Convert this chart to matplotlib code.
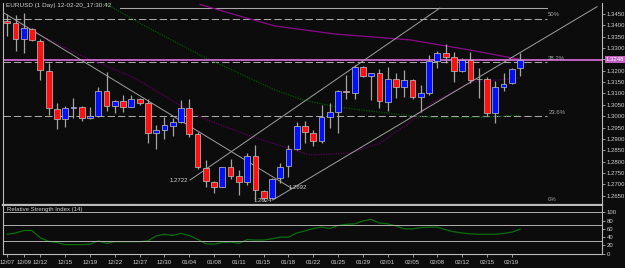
import numpy as np
import matplotlib
matplotlib.use("Agg")
import matplotlib.pyplot as plt

# daily EURUSD candles, index 0 = 12/07
opens = [1.3420, 1.3409, 1.3339, 1.3383, 1.3332, 1.3199, 1.3030, 1.2986, 1.3035, 1.3042,
         1.2991, 1.3001, 1.3111, 1.3045, 1.3067, 1.3042, 1.3074, 1.3059, 1.2927, 1.2939,
         1.2958, 1.2976, 1.3035, 1.2922, 1.2773, 1.2712, 1.2690, 1.2775, 1.2737, 1.2712,
         1.2825, 1.2671, 1.2638, 1.2727, 1.2781, 1.2854, 1.2958, 1.2927, 1.2892, 1.2995,
         1.3020, 1.3112, 1.3103, 1.3215, 1.3178, 1.3189, 1.3064, 1.3164, 1.3130, 1.3159,
         1.3086, 1.3101, 1.3243, 1.3277, 1.3259, 1.3199, 1.3247, 1.3163, 1.3164, 1.3015,
         1.3127, 1.3145, 1.3211]
highs = [1.3450, 1.3446, 1.3456, 1.3387, 1.3339, 1.3233, 1.3059, 1.3045, 1.3081, 1.3045,
         1.3039, 1.3127, 1.3196, 1.3071, 1.3093, 1.3093, 1.3079, 1.3074, 1.2961, 1.2998,
         1.2991, 1.3071, 1.3074, 1.2932, 1.2807, 1.2715, 1.2778, 1.2810, 1.2763, 1.2837,
         1.2873, 1.2675, 1.2728, 1.2793, 1.2873, 1.2976, 1.2980, 1.2939, 1.3049, 1.3059,
         1.3115, 1.3181, 1.3225, 1.3221, 1.3192, 1.3207, 1.3218, 1.3192, 1.3203, 1.3164,
         1.3137, 1.3269, 1.3287, 1.3318, 1.3284, 1.3255, 1.3284, 1.3211, 1.3174, 1.3156,
         1.3192, 1.3211, 1.3277]
lows = [1.3353, 1.3288, 1.3280, 1.3332, 1.3159, 1.3005, 1.2942, 1.2954, 1.2991, 1.2980,
        1.2986, 1.2998, 1.3023, 1.3013, 1.3020, 1.3039, 1.3049, 1.2883, 1.2854, 1.2898,
        1.2913, 1.2969, 1.2910, 1.2766, 1.2690, 1.2660, 1.2687, 1.2723, 1.2653, 1.2697,
        1.2631, 1.2627, 1.2635, 1.2707, 1.2734, 1.2851, 1.2883, 1.2870, 1.2881, 1.2949,
        1.2927, 1.3074, 1.3074, 1.3171, 1.3071, 1.3035, 1.3023, 1.3079, 1.3086, 1.3077,
        1.3020, 1.3093, 1.3214, 1.3233, 1.3152, 1.3196, 1.3145, 1.3079, 1.3001, 1.2971,
        1.3112, 1.3142, 1.3178]
closes = [1.3409, 1.3339, 1.3387, 1.3336, 1.3203, 1.3035, 1.2986, 1.3035, 1.3042, 1.2993,
          1.3001, 1.3111, 1.3045, 1.3067, 1.3042, 1.3074, 1.3059, 1.2927, 1.2939, 1.2961,
          1.2976, 1.3035, 1.2922, 1.2778, 1.2715, 1.2690, 1.2775, 1.2738, 1.2712, 1.2825,
          1.2675, 1.2641, 1.2722, 1.2778, 1.2854, 1.2958, 1.2932, 1.2892, 1.2995, 1.3017,
          1.3111, 1.3105, 1.3215, 1.3177, 1.3189, 1.3067, 1.3164, 1.3130, 1.3159, 1.3086,
          1.3101, 1.3243, 1.3277, 1.3262, 1.3199, 1.3247, 1.3159, 1.3163, 1.3015, 1.3127,
          1.3140, 1.3208, 1.3248]

rsi = [47, 50, 56, 56, 38, 30, 27, 22, 22, 22, 23, 31, 25, 29, 29, 29, 29, 31, 43, 47,
       44, 49, 44, 35, 24, 23, 27, 28, 25, 34, 33, 33, 36, 40, 40, 50, 55, 61, 64, 61,
       68, 71, 72, 79, 83, 74, 72, 67, 60, 60, 63, 64, 64, 58, 53, 50, 48, 47, 47, 47,
       49, 52, 59]

date_idx = [0, 2, 4, 7, 10, 13, 16, 19, 22, 25, 28, 31, 34, 37, 40, 43, 46, 49, 52, 55, 58, 61]
date_labels = ["12/07", "12/09", "12/12", "12/15", "12/19", "12/22", "12/27", "12/30", "01/04",
               "01/08", "01/11", "01/15", "01/18", "01/22", "01/25", "01/29", "02/01", "02/05",
               "02/08", "02/12", "02/15", "02/19"]

# moving averages (bar index, price)
ma_slow_x = [23.3, 28.1, 32.4, 39.6, 48.7, 56.0, 61.4, 62]
ma_slow_y = [1.3492, 1.3441, 1.3397, 1.3362, 1.3336, 1.3291, 1.3254, 1.3251]
ma_mid_x = [1.5, 8.8, 15.4, 23.3, 29.7, 36.6, 41.4, 45.1, 48.7, 51.3, 56.2, 62]
ma_mid_y = [1.3402, 1.3269, 1.3168, 1.2996, 1.2908, 1.2829, 1.2838, 1.2882, 1.2974, 1.3058,
            1.3151, 1.3168]
ma_fast_x = [11.8, 16.0, 23.3, 32.4, 35.8, 39.9, 48.1, 52.1, 58.1, 62]
ma_fast_y = [1.3498, 1.3410, 1.3269, 1.3115, 1.3071, 1.3040, 1.3005, 1.2992, 1.2996, 1.3005]

# fibonacci levels and drawn objects
fib_levels = ["50%", "38.2%", "23.6%", "0%"]
fib_prices = [1.3430, 1.3237, 1.2999, 1.2615]
top_line = (13.6, 65.26, 1.3475)
hline_price = 1.3248
trend_lines = [((-0.48, 1.3456), (34.4, 1.2682)),
               ((22.1, 1.2719), (52.3, 1.3476)),
               ((32.1, 1.2631), (71.3, 1.3482))]
trend_labels = [(34.0, 1.2686, "1.2692", "left"),
                (21.9, 1.2717, "1.2722", "right"),
                (32.0, 1.2629, "1.2624", "right")]

price_ticks = [1.2650 + 0.005 * k for k in range(17)]
rsi_ticks = [0, 20, 40, 60, 80, 100]

W, H = 625, 268
BG = "#0c0c0c"
FG = "#d0d0d0"
GRID = "#a8a8a8"
FONT = "Liberation Sans"
FS = 4.3

def rect(x0, y0, x1, y1):
    return [x0 / W, 1 - y1 / H, (x1 - x0) / W, (y1 - y0) / H]

fig = plt.figure(figsize=(W / 100, H / 100), dpi=100, facecolor=BG)
ax = fig.add_axes(rect(3.3, 3, 601.7, 204.5), facecolor=BG)
ax2 = fig.add_axes(rect(3.3, 206, 601.7, 254.3), facecolor=BG)

xmin, xmax = -0.484, 71.87
ax.set_xlim(xmin, xmax)
ax.set_ylim(1.26112, 1.34984)

# fibo
for lab, p in zip(fib_levels, fib_prices):
    ax.plot([xmin, 65.26], [p, p], color=GRID, lw=0.75, dashes=(7, 3), zorder=1)
    ax.text(65.4, p + 0.0006, lab, color=GRID, fontsize=FS, family=FONT, va="bottom", ha="left")
ax.plot(top_line[:2], [top_line[2]] * 2, color=GRID, lw=0.75, zorder=1)

# moving averages
ax.plot(ma_slow_x, ma_slow_y, color="#8a0a8a", lw=0.9, zorder=2)
ax.plot(ma_mid_x, ma_mid_y, color="#600060", lw=0.9, ls=(0, (1, 1)), zorder=2)
ax.plot(ma_fast_x, ma_fast_y, color="#005a00", lw=0.9, ls=(0, (1, 1)), zorder=2)

# horizontal line at current price
ax.axhline(hline_price, color="#c060c0", lw=1.4, zorder=2)

# trend lines
for (x0, y0), (x1, y1) in trend_lines:
    ax.plot([x0, x1], [y0, y1], color="#a0a0a0", lw=0.7, zorder=3)
for x, y, t, ha in trend_labels:
    ax.text(x, y, t, color=FG, fontsize=FS, family=FONT, ha=ha, va="center", zorder=4)

# candles
idx = np.arange(len(opens))
o = np.array(opens); c = np.array(closes)
ax.vlines(idx, lows, highs, color="#a4a4a4", lw=0.9, zorder=4)
up = c >= o
bottoms = np.minimum(o, c)
heights = np.maximum(np.abs(c - o), 0.0002)
cols = np.where(up, "#0010ff", "#ff1010")
ax.bar(idx, heights, bottom=bottoms, width=0.7, color=cols, edgecolor="#c4c4c4", lw=0.5, zorder=5)

# axes styling
for a in (ax, ax2):
    for s in a.spines.values():
        s.set_color("#bcbcbc")
        s.set_linewidth(0.8)
    a.spines["top"].set_visible(False)
ax.spines["bottom"].set_linewidth(1.6)
ax.set_xticks([])
ax.yaxis.tick_right()
ax.set_yticks(price_ticks)
ax.set_yticklabels(["%.4f" % p for p in price_ticks])
ax.tick_params(axis="y", colors=FG, length=2, width=0.5, pad=1.5, labelsize=FS)
for lab in ax.get_yticklabels():
    lab.set_family(FONT)

ax.text(-0.1, 1.3488, "EURUSD (1 Day) 12-02-20_17:30:42", color=FG, fontsize=FS + 0.3,
        family=FONT, va="center", ha="left")

# current price box
ax.text(1.0065, hline_price, "1.3248", transform=ax.get_yaxis_transform(), color="white",
        fontsize=FS, family=FONT, va="center", ha="left", zorder=6,
        bbox=dict(boxstyle="square,pad=0.15", fc="#c060c0", ec="none"))

# RSI panel
ax2.set_xlim(xmin, xmax)
ax2.set_ylim(-1.45, 115.2)
ax2.plot(idx, rsi, color="#0a6e0a", lw=0.9)
for lvl in (100, 70, 30):
    ax2.axhline(lvl, color="#b0b0b0", lw=0.7)
ax2.spines["bottom"].set_linestyle((0, (1, 1)))
ax2.yaxis.tick_right()
ax2.set_yticks(rsi_ticks)
ax2.tick_params(axis="y", colors=FG, length=2, width=0.5, pad=1.5, labelsize=FS)
ax2.set_xticks(date_idx)
ax2.set_xticklabels(date_labels)
ax2.tick_params(axis="x", colors=FG, length=2, width=0.5, pad=2, labelsize=FS)
for lab in ax2.get_yticklabels() + ax2.get_xticklabels():
    lab.set_family(FONT)
ax2.text(0.0, 113, "Relative Strength Index (14)", color=FG, fontsize=FS, family=FONT,
         va="top", ha="left")

fig.savefig("out.png", dpi=100, facecolor=BG)
